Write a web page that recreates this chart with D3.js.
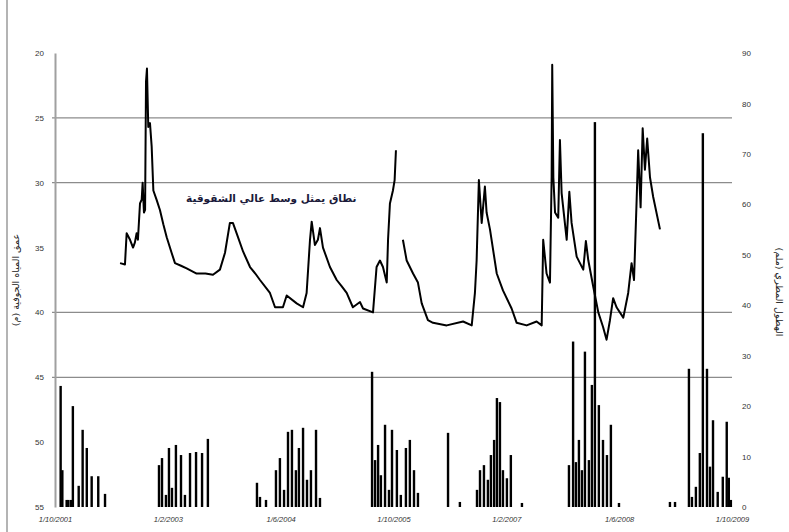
<!DOCTYPE html>
<html>
<head>
<meta charset="utf-8">
<script src="https://cdn.jsdelivr.net/npm/d3@7"></script>
<style>
  body { margin: 0; background: #fff; }
  svg { display: block; font-family: "DejaVu Sans", Arial, sans-serif; }
</style>
</head>
<body>
<div id="chart"></div>
<script>
// observation index along the category axis, tick labels every 60 observations
var xTickValues = [0, 60, 120, 180, 240, 300, 360];
var xTickLabels = ["1/10/2001", "1/2/2003", "1/6/2004", "1/10/2005", "1/2/2007", "1/6/2008", "1/10/2009"];

// groundwater depth (m), left axis, inverted
var depthTicks = [20, 25, 30, 35, 40, 45, 50, 55];
var depthGrid = [25, 30, 40, 45];

// rainfall (mm), right axis
var rainTicks = [0, 10, 20, 30, 40, 50, 60, 70, 80, 90];

// groundwater depth series [index, depth]; null breaks the line
var depthSeries = [
  [34.6, 36.2], [37.2, 36.3], [38.1, 33.9], [39.9, 34.4], [41.5, 35.0], [42.5, 34.6],
  [43.4, 33.9], [44.1, 34.4], [45.2, 31.6], [46.1, 31.3], [46.6, 30.0], [47.3, 32.3],
  [47.9, 32.1], [48.4, 22.2], [48.9, 21.2], [49.6, 25.7], [50.5, 25.4], [51.4, 27.2],
  [52.3, 30.6], [54.0, 31.3], [55.8, 32.1], [57.6, 33.2], [59.4, 34.2], [62.0, 35.4],
  [63.8, 36.2], [67.0, 36.4], [70.0, 36.6], [75.3, 37.0], [80.0, 37.0], [84.0, 37.1],
  [87.7, 36.7], [90.4, 35.4], [93.0, 33.1], [94.6, 33.1], [96.6, 33.9], [100.0, 35.3],
  [103.7, 36.5], [106.5, 37.0], [109.0, 37.5], [114.3, 38.5], [117.0, 39.6], [121.2, 39.6],
  [123.2, 38.7], [128.5, 39.3], [131.9, 39.6], [133.8, 38.5], [135.6, 34.4], [136.5, 33.0],
  [138.2, 34.8], [139.8, 34.4], [140.9, 33.5], [142.5, 35.0], [146.2, 36.5], [149.8, 37.5],
  [152.5, 38.0], [155.1, 38.5], [158.4, 39.6], [162.2, 39.2], [163.8, 39.7], [169.1, 40.0],
  [171.0, 36.5], [172.8, 36.0], [174.4, 36.5], [176.4, 37.7], [177.1, 34.4], [178.1, 31.6],
  [179.7, 30.6], [180.6, 29.8], [181.3, 27.5],
  null,
  [185.0, 34.4], [187.0, 36.0], [190.4, 37.0], [193.0, 37.7], [195.0, 39.3], [198.3, 40.6],
  [201.0, 40.8], [208.3, 41.0], [217.0, 40.7], [221.6, 41.0], [223.3, 38.5], [224.2, 36.0],
  [225.4, 29.8], [226.9, 33.1], [228.6, 30.3], [229.5, 32.3], [231.3, 33.6], [234.9, 37.0],
  [238.2, 38.3], [242.8, 39.7], [245.5, 40.8], [250.8, 41.0], [256.1, 40.7], [258.8, 41.0],
  [259.6, 34.4], [261.4, 37.0], [263.2, 37.7], [264.1, 29.5], [264.4, 20.9], [265.0, 29.6],
  [265.9, 32.3], [267.6, 32.7], [268.5, 26.7], [269.4, 30.8], [272.1, 34.4], [273.5, 30.7],
  [274.7, 33.1], [277.4, 35.7], [280.9, 36.7], [282.3, 34.5], [283.6, 36.0], [286.2, 38.0],
  [288.9, 40.0], [291.4, 41.1], [293.3, 42.1], [295.1, 40.6], [296.8, 38.9], [298.6, 39.6],
  [302.2, 40.4], [304.8, 38.5], [306.6, 36.2], [307.9, 37.5], [309.3, 31.3], [310.1, 27.5],
  [311.4, 31.9], [312.5, 25.8], [313.7, 29.0], [314.9, 26.6], [316.4, 29.6], [318.1, 31.1],
  [321.7, 33.6]
];

// rainfall events [index, mm]
var rainSeries = [
  [3.0, 24.0], [3.9, 7.3], [6.2, 1.4], [7.1, 1.4], [8.5, 1.4], [9.5, 20.0], [12.6, 4.2],
  [14.7, 15.3], [16.9, 11.7], [19.5, 6.1], [23.0, 6.1], [26.6, 2.6],
  [55.3, 8.3], [56.9, 9.7], [59.0, 2.4], [60.6, 11.7], [62.2, 3.8], [64.3, 12.3], [67.0, 10.3],
  [69.1, 2.4], [71.8, 10.7], [75.0, 10.9], [78.2, 10.7], [81.3, 13.5],
  [107.4, 4.8], [109.0, 2.0], [112.2, 1.4], [117.5, 7.3], [119.6, 9.7], [121.8, 3.4],
  [123.9, 14.9], [126.0, 15.3], [128.1, 7.3], [129.7, 11.7], [131.9, 15.7], [134.0, 5.4],
  [136.1, 7.3], [138.8, 15.3], [140.9, 1.8],
  [168.6, 26.8], [170.2, 9.3], [171.8, 12.3], [173.3, 6.3], [175.5, 16.3], [177.6, 3.4],
  [179.2, 15.3], [181.8, 11.3], [183.9, 2.4], [186.6, 11.7], [188.7, 13.3], [190.9, 7.3],
  [193.0, 2.8], [209.0, 14.7], [215.3, 1.0],
  [224.4, 3.4], [226.0, 7.3], [228.1, 8.3], [230.2, 5.4], [231.8, 10.3], [233.5, 13.3],
  [235.0, 21.6], [236.6, 20.8], [238.2, 7.3], [240.3, 5.7], [242.4, 10.3], [248.3, 0.8],
  [273.3, 8.3], [275.5, 32.8], [277.0, 8.9], [278.6, 13.3], [280.2, 7.3], [281.8, 30.8],
  [283.9, 9.3], [285.5, 24.2], [287.1, 76.3], [289.2, 20.2], [291.4, 13.3], [293.5, 10.3],
  [295.6, 16.3], [299.9, 0.8],
  [327.0, 1.0], [329.7, 1.0], [337.1, 27.4], [338.7, 2.0], [340.8, 4.0], [342.9, 10.7],
  [344.5, 74.1], [346.7, 27.4], [348.3, 8.0], [349.9, 17.2], [352.4, 3.0], [355.1, 6.0],
  [357.2, 16.9], [358.3, 5.8], [359.4, 1.4]
];

var annotation = { index: 115, depth: 31.5, text: "نطاق يمثل وسط عالي الشقوقية" };
var leftTitle = "عمق المياه الجوفية (م)";
var rightTitle = "الهطول المطري (ملم)";

var width = 789, height = 532;
var margin = { top: 53, right: 57, bottom: 25, left: 55 };
var plotW = width - margin.left - margin.right;
var plotH = height - margin.top - margin.bottom;

var svg = d3.select("#chart").append("svg")
  .attr("width", width)
  .attr("height", height);

svg.append("rect").attr("width", width).attr("height", height).attr("fill", "#fff");

// scan frame line at the far left
svg.append("line")
  .attr("x1", 7).attr("x2", 7).attr("y1", 0).attr("y2", height)
  .attr("stroke", "#b4b4b4").attr("stroke-width", 2);

var g = svg.append("g")
  .attr("transform", "translate(" + margin.left + "," + margin.top + ")");

var x = d3.scaleLinear().domain([0, 360]).range([0, plotW]);
var yDepth = d3.scaleLinear().domain([20, 55]).range([0, plotH]);
var yRain = d3.scaleLinear().domain([0, 90]).range([plotH, 0]);

// gridlines
g.selectAll(".grid")
  .data(depthGrid)
  .enter().append("line")
  .attr("x1", -3).attr("x2", plotW)
  .attr("y1", function(d) { return yDepth(d); })
  .attr("y2", function(d) { return yDepth(d); })
  .attr("stroke", "#8c8c8c")
  .attr("stroke-width", 1.2);

// left axis
var leftAxis = g.append("g")
  .call(d3.axisLeft(yDepth).tickValues(depthTicks).tickSize(0).tickPadding(11));
leftAxis.select(".domain").attr("stroke", "#a0a0a0").attr("stroke-width", 2);
leftAxis.selectAll("text").attr("font-size", 8).attr("fill", "#333");

// right axis (labels only)
var rightAxis = g.append("g")
  .attr("transform", "translate(" + plotW + ",0)")
  .call(d3.axisRight(yRain).tickValues(rainTicks).tickSize(0).tickPadding(10));
rightAxis.select(".domain").remove();
rightAxis.selectAll("text").attr("font-size", 8).attr("fill", "#333");

// bottom axis (labels only)
var bottomAxis = g.append("g")
  .attr("transform", "translate(0," + plotH + ")")
  .call(d3.axisBottom(x).tickValues(xTickValues).tickSize(0).tickPadding(10)
    .tickFormat(function(d, i) { return xTickLabels[i]; }));
bottomAxis.select(".domain").remove();
bottomAxis.selectAll("text").attr("font-size", 7.5).attr("fill", "#333").attr("font-style", "italic");

// rainfall bars
g.selectAll(".rain")
  .data(rainSeries)
  .enter().append("rect")
  .attr("x", function(d) { return x(d[0]) - 1.2; })
  .attr("y", function(d) { return yRain(d[1]); })
  .attr("width", 2.4)
  .attr("height", function(d) { return plotH - yRain(d[1]); })
  .attr("fill", "#000");

// groundwater depth line
var line = d3.line()
  .defined(function(d) { return d !== null; })
  .x(function(d) { return x(d[0]); })
  .y(function(d) { return yDepth(d[1]); });

g.append("path")
  .datum(depthSeries)
  .attr("d", line)
  .attr("fill", "none")
  .attr("stroke", "#000")
  .attr("stroke-width", 2)
  .attr("stroke-linejoin", "round");

// annotation
g.append("text")
  .attr("x", x(annotation.index))
  .attr("y", yDepth(annotation.depth))
  .attr("text-anchor", "middle")
  .attr("font-size", 10.5)
  .attr("font-weight", "bold")
  .attr("fill", "#1a1a3a")
  .text(annotation.text);

// axis titles
svg.append("text")
  .attr("transform", "translate(19,280) rotate(-90)")
  .attr("text-anchor", "middle")
  .attr("font-size", 9.5)
  .attr("fill", "#222")
  .text(leftTitle);

svg.append("text")
  .attr("transform", "translate(776,292) rotate(90)")
  .attr("text-anchor", "middle")
  .attr("font-size", 9.5)
  .attr("fill", "#222")
  .text(rightTitle);
</script>
</body>
</html>
